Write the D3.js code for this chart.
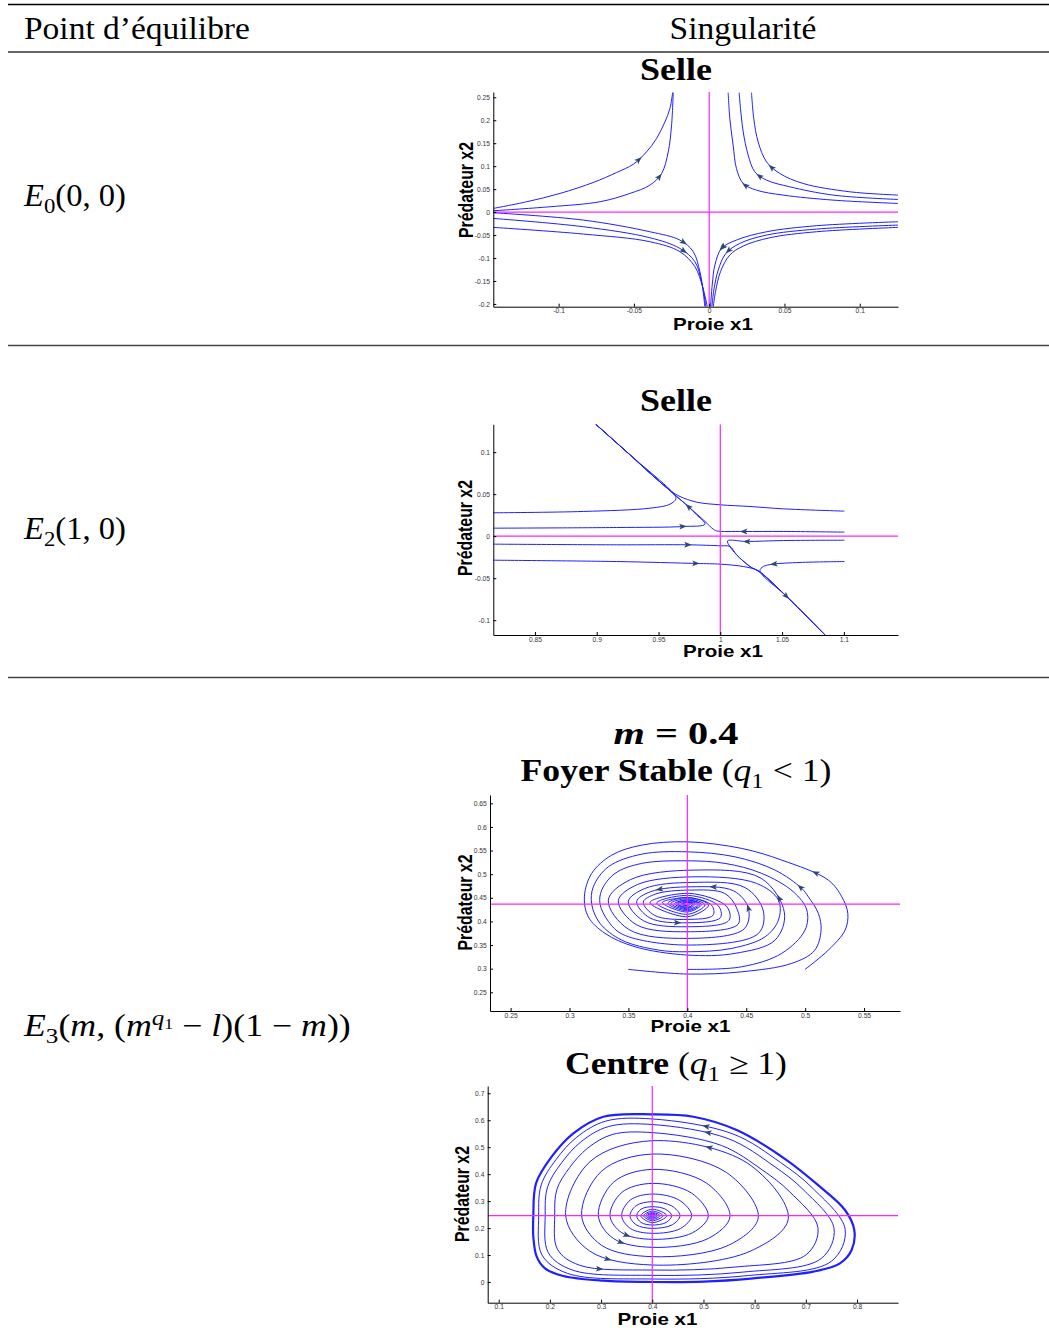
<!DOCTYPE html>
<html><head><meta charset="utf-8">
<script src="https://cdn.jsdelivr.net/npm/d3@7"></script>
<style>body{margin:0;background:#fff}svg{display:block}text{white-space:pre}</style>
</head><body><svg id="c" width="1049" height="1332"></svg>
<script>
// ---------------- DATA ----------------
const headerLabels = ["Point d\u2019\u00e9quilibre", "Singularit\u00e9"];
const rowLabels = [
  [["E","i"],["0","sub"],["(0, 0)",""]],
  [["E","i"],["2","sub"],["(1, 0)",""]],
  [["E","i"],["3","sub"],["(",""],["m","i"],[", (",""],["m","i"],["q","supi"],["1","supsub"],[" \u2212 ",""],["l","i"],[")(1 \u2212 ",""],["m","i"],["))",""]]
];
const titles = [
  [["Selle","b"]],
  [["Selle","b"]],
  [["m","bi"],[" = 0.4","b"]],
  [["Foyer Stable","b"],[" (",""],["q","i"],["1","sub"],[" < 1)",""]],
  [["Centre","b"],[" (",""],["q","i"],["1","sub"],[" \u2265 1)",""]]
];
const xAxisLabel = "Proie x1";
const yAxisLabel = "Pr\u00e9dateur x2";

// Panel 1 : saddle E0
const p1XDomain = [-0.1434, 0.1254];
const p1YDomain = [-0.206, 0.2615];
const p1XTicks = [-0.1, -0.05, 0, 0.05, 0.1];
const p1YTicks = [-0.2, -0.15, -0.1, -0.05, 0, 0.05, 0.1, 0.15, 0.2, 0.25];
const p1Equilibrium = [0, 0];
const p1Curves = [
  [[-0.1434,0.008],[-0.1212,0.0225],[-0.0991,0.0406],[-0.077,0.0645],[-0.0615,0.0862],[-0.0504,0.1043],[-0.0416,0.1312],[-0.035,0.1601],[-0.0294,0.1964],[-0.0261,0.2254],[-0.0243,0.2601]],
  [[-0.1434,0.0029],[-0.1058,0.0116],[-0.0726,0.0225],[-0.0527,0.0406],[-0.0394,0.0587],[-0.0316,0.0841],[-0.0272,0.1312],[-0.025,0.1891],[-0.0239,0.2601]],
  [[0.1254,0.0188],[0.0823,0.0261],[0.0491,0.037],[0.0314,0.0478],[0.0226,0.0623],[0.0181,0.0949],[0.0159,0.1457],[0.0137,0.2036],[0.0126,0.2601]],
  [[0.1254,0.0275],[0.0823,0.037],[0.0535,0.0551],[0.0381,0.0696],[0.0303,0.0877],[0.0259,0.1239],[0.0226,0.1746],[0.0208,0.2254],[0.0199,0.2601]],
  [[0.1254,0.037],[0.0934,0.0442],[0.0624,0.0623],[0.0469,0.0841],[0.0381,0.1094],[0.0325,0.1529],[0.0296,0.2036],[0.0281,0.2601]],
  [[-0.1434,-0.0014],[-0.0836,-0.0174],[-0.0394,-0.0428],[-0.0195,-0.0609],[-0.0106,-0.0862],[-0.0062,-0.1297],[-0.004,-0.1732],[-0.0029,-0.2058]],
  [[-0.1434,-0.0138],[-0.0836,-0.0319],[-0.0394,-0.0558],[-0.0195,-0.079],[-0.0095,-0.108],[-0.0051,-0.1514],[-0.0022,-0.2058]],
  [[-0.1434,-0.0333],[-0.0836,-0.0478],[-0.0394,-0.0645],[-0.0195,-0.0862],[-0.0095,-0.1188],[-0.0044,-0.1623],[-0.0013,-0.2058]],
  [[0.1254,-0.021],[0.0712,-0.0297],[0.0381,-0.0428],[0.0181,-0.0609],[0.0082,-0.079],[0.0038,-0.1152],[0.002,-0.1587],[0.0009,-0.2058]],
  [[0.1254,-0.0283],[0.0712,-0.037],[0.0381,-0.05],[0.0204,-0.0681],[0.0111,-0.0899],[0.006,-0.1261],[0.0031,-0.1696],[0.0018,-0.2058]],
  [[0.1254,-0.0333],[0.0712,-0.0428],[0.0403,-0.0558],[0.0226,-0.0739],[0.0137,-0.0935],[0.0075,-0.1297],[0.0042,-0.1732],[0.0027,-0.2058]]
];
const p1Arrows = [[-0.0459,0.1133],[-0.0326,0.0756],[0.0402,0.0952],[0.0325,0.0748],[0.0237,0.0588],[-0.0161,-0.0647],[-0.0161,-0.0843],[0.0071,-0.0741],[0.0097,-0.0806],[0.0126,-0.0843]];

// Panel 2 : saddle E2
const p2XDomain = [0.8163, 1.1438];
const p2YDomain = [-0.1176, 0.1331];
const p2XTicks = [0.85, 0.9, 0.95, 1, 1.05, 1.1];
const p2YTicks = [-0.1, -0.05, 0, 0.05, 0.1];
const p2Equilibrium = [1, 0];
const p2Curves = [
  [[0.8163,0.0278],[0.8891,0.0294],[0.9431,0.0333],[0.9593,0.0381],[0.9641,0.0444],[0.9625,0.05],[0.9566,0.0591],[0.9269,0.0968],[0.8991,0.1333]],
  [[1.1004,0.0298],[1.051,0.0325],[1.024,0.0353],[1.0,0.0373],[0.9808,0.0405],[0.9674,0.0472],[0.9606,0.0532],[0.9431,0.075],[0.9269,0.0968],[0.8991,0.1333]],
  [[0.8163,0.0095],[0.9161,0.0103],[0.9701,0.0115],[0.9876,0.0143],[0.9808,0.0254],[0.9741,0.0353],[0.9647,0.0472],[0.9431,0.075],[0.9269,0.0968],[0.8991,0.1333]],
  [[1.1004,0.0048],[1.051,0.0056],[1.0186,0.0056],[0.997,0.0063],[0.9943,0.0083],[0.9876,0.0175],[0.9741,0.0353],[0.9647,0.0472],[0.9431,0.075],[0.9269,0.0968],[0.8991,0.1333]],
  [[0.8163,-0.0095],[0.9161,-0.0103],[0.9741,-0.0103],[1.0,-0.0115],[1.0078,-0.0123],[1.0132,-0.0222],[1.024,-0.0361],[1.0321,-0.0429],[1.0537,-0.0718],[1.0847,-0.1175]],
  [[1.1004,-0.0048],[1.051,-0.0052],[1.0213,-0.0063],[1.0059,-0.0056],[1.0078,-0.0123],[1.0132,-0.0222],[1.024,-0.0361],[1.0321,-0.0429],[1.0537,-0.0718],[1.0847,-0.1175]],
  [[0.8163,-0.0286],[0.9161,-0.0302],[0.9808,-0.0325],[1.0,-0.0333],[1.0186,-0.0361],[1.0294,-0.0401],[1.0335,-0.044],[1.0537,-0.0718],[1.0847,-0.1175]],
  [[1.1004,-0.0302],[1.0645,-0.0313],[1.0429,-0.0333],[1.0348,-0.0361],[1.0321,-0.0413],[1.0537,-0.0718],[1.0847,-0.1175]]
];
const p2Arrows = [[0.9741,0.0353],[0.9701,0.0107],[1.0186,0.0056],[0.9741,-0.0103],[1.0213,-0.0063],[0.9808,-0.0325],[1.0429,-0.0333],[1.0537,-0.0718]];

// Panel 3 : stable focus E3
const p3XDomain = [0.2325, 0.5805];
const p3YDomain = [0.2104, 0.6676];
const p3XTicks = [0.25, 0.3, 0.35, 0.4, 0.45, 0.5, 0.55];
const p3YTicks = [0.25, 0.3, 0.35, 0.4, 0.45, 0.5, 0.55, 0.6, 0.65];
const p3Equilibrium = [0.4, 0.4367];
const p3Curves = [
  [[0.4999,0.2985],[0.5197,0.3394],[0.5339,0.3817],[0.5362,0.417],[0.5311,0.4521],[0.5197,0.4874],[0.4801,0.5298],[0.4462,0.5545],[0.4,0.5685],[0.3613,0.5615],[0.3358,0.5403],[0.3188,0.5016],[0.3126,0.4521],[0.3159,0.4098],[0.3301,0.3747],[0.3556,0.3463],[0.4,0.3288],[0.4405,0.3324],[0.4745,0.3605],
   [0.4824,0.418],[0.4626,0.4913],[0.405,0.5086],[0.3517,0.4885],[0.3329,0.445],[0.3503,0.383],[0.4,0.3641],[0.4483,0.3844],
   [0.4518,0.428],[0.4394,0.4645],[0.403,0.4733],[0.369,0.4631],[0.357,0.442],[0.3682,0.4074],[0.4,0.3971],[0.4281,0.4082],
   [0.4263,0.433],[0.401,0.455],[0.374,0.439],[0.4,0.415],
   [0.415,0.435],[0.4,0.448],[0.386,0.438],[0.4,0.425],
   [0.409,0.436],[0.4,0.443],[0.392,0.437],[0.4,0.43],
   [0.405,0.4365],[0.4,0.44],[0.396,0.437],[0.4,0.434],[0.4,0.4367]],
  [[0.35,0.2985],[0.4,0.2886],[0.4462,0.2934],[0.4886,0.3112],[0.508,0.3385],[0.5135,0.3817],[0.5112,0.417],[0.5027,0.4521],[0.4971,0.4699],[0.4745,0.5086],[0.4405,0.5367],[0.4,0.5473],[0.3613,0.5424],[0.3329,0.5156],[0.3202,0.4733],[0.3188,0.4367],[0.3259,0.3958],[0.3443,0.3605],[0.3754,0.3394],[0.4,0.3358],[0.4377,0.3429],[0.466,0.3675],
   [0.4773,0.4028],[0.4773,0.4451],[0.4587,0.4806],[0.405,0.4944],[0.3578,0.4782],[0.3414,0.444],[0.3566,0.3933],[0.4,0.3781],[0.4432,0.3945],
   [0.4419,0.428],[0.4318,0.4592],[0.402,0.4663],[0.3731,0.458],[0.3626,0.441],[0.3723,0.4127],[0.4,0.4043],[0.4218,0.413],
   [0.4207,0.434],[0.401,0.45],[0.3788,0.44],[0.4,0.42],
   [0.412,0.436],[0.4,0.4455],[0.389,0.4375],[0.4,0.427],
   [0.4065,0.4365],[0.4,0.4415],[0.3945,0.437],[0.4,0.432],[0.4025,0.4367],[0.4,0.4367]],
  [[0.4,0.2985],[0.4462,0.304],[0.4801,0.3324],[0.4999,0.3817],[0.5014,0.424],[0.49,0.4627],[0.4632,0.5016],[0.432,0.5228],[0.4,0.5283],[0.3613,0.5228],[0.3386,0.5016],[0.3273,0.4663],[0.3259,0.4367],[0.333,0.4],[0.3452,0.3725],[0.4,0.35],[0.4602,0.3743],
   [0.4645,0.422],[0.449,0.4716],[0.404,0.4826],[0.3639,0.4697],[0.3499,0.442],[0.3629,0.4012],[0.4,0.3887],[0.4353,0.4021],
   [0.4335,0.431],[0.402,0.4593],[0.3683,0.44],[0.4,0.41],
   [0.418,0.4345],[0.4,0.451],[0.3834,0.4385],[0.4,0.4225],
   [0.4105,0.436],[0.4,0.4455],[0.391,0.4375],[0.4,0.4285],
   [0.4045,0.4365],[0.4,0.4405],[0.396,0.4368],[0.4,0.4335],[0.4,0.4367]]
];
const p3Arrows = [[0.507,0.4932],[0.4957,0.472],[0.4773,0.4487],[0.4513,0.4297],[0.4221,0.4733],[0.3762,0.4684],[0.3924,0.3971]];

// Panel 4 : centre E3
const p4XDomain = [0.0785, 0.88];
const p4YDomain = [-0.0768, 0.727];
const p4XTicks = [0.1, 0.2, 0.3, 0.4, 0.5, 0.6, 0.7, 0.8];
const p4YTicks = [0, 0.1, 0.2, 0.3, 0.4, 0.5, 0.6, 0.7];
const p4Equilibrium = [0.4, 0.246];
const p4Curves = [
  [[0.1676,0.2459],[0.1729,0.3658],[0.2035,0.4647],[0.2458,0.5512],[0.3044,0.613],[0.4,0.6217],[0.4801,0.613],[0.5648,0.5636],[0.6624,0.4524],[0.7275,0.3535],[0.7764,0.267],[0.7946,0.1928],[0.7894,0.1187],[0.7666,0.0692],[0.7145,0.0383],[0.5973,0.0136],[0.4997,0.0012],[0.4,0.0],[0.3044,0.0049],[0.2262,0.0222],[0.1904,0.0507],[0.1742,0.0939],[0.1676,0.1681]],
  [[0.1781,0.246],[0.1831,0.3604],[0.2123,0.4549],[0.2527,0.5375],[0.3087,0.5965],[0.4,0.6048],[0.5574,0.5493],[0.6506,0.4431],[0.7128,0.3487],[0.7768,0.1952],[0.7501,0.0772],[0.5884,0.0241],[0.4,0.0111],[0.234,0.0323],[0.1844,0.1007]],
  [[0.1908,0.246],[0.1956,0.3538],[0.2231,0.4428],[0.2612,0.5207],[0.314,0.5763],[0.4,0.5841],[0.5483,0.5318],[0.6362,0.4318],[0.6948,0.3428],[0.7551,0.1981],[0.7299,0.0869],[0.5776,0.0368],[0.4,0.0246],[0.2436,0.0446],[0.1968,0.1091]],
  [[0.2094,0.246],[0.2138,0.3442],[0.2389,0.4253],[0.2736,0.4963],[0.3216,0.5469],[0.4,0.5541],[0.5351,0.5064],[0.6152,0.4152],[0.6686,0.3342],[0.7236,0.2024],[0.7006,0.101],[0.5618,0.0554],[0.4,0.0443],[0.2575,0.0625],[0.2148,0.1213]],
  [[0.2308,0.246],[0.2782,0.4462],[0.4,0.524],[0.586,0.4406],[0.6657,0.235],[0.5913,0.1142],[0.4,0.063],[0.2782,0.1142]],
  [[0.262,0.246],[0.3006,0.4106],[0.4,0.4746],[0.545,0.406],[0.6071,0.24],[0.5491,0.1365],[0.4,0.0939],[0.3006,0.1365]],
  [[0.2946,0.246],[0.3241,0.3697],[0.4,0.4178],[0.5063,0.3663],[0.5518,0.243],[0.5093,0.1614],[0.4,0.1285],[0.3241,0.1614]],
  [[0.3174,0.246],[0.3405,0.3323],[0.4,0.3658],[0.4766,0.3299],[0.5094,0.245],[0.4788,0.1828],[0.4,0.1582],[0.3405,0.1828]],
  [[0.3402,0.246],[0.357,0.3038],[0.4,0.3263],[0.4538,0.3022],[0.4769,0.246],[0.4554,0.1988],[0.4,0.1805],[0.357,0.1988]],
  [[0.3564,0.246],[0.3686,0.2834],[0.4,0.2979],[0.4379,0.2823],[0.4541,0.246],[0.439,0.2122],[0.4,0.199],[0.3686,0.2122]],
  [[0.3695,0.246],[0.378,0.27],[0.4,0.2793],[0.4265,0.2693],[0.4378,0.246],[0.4272,0.221],[0.4,0.2113],[0.378,0.221]],
  [[0.3775,0.246],[0.4,0.27],[0.4285,0.246],[0.4,0.22]],
  [[0.383,0.246],[0.4,0.263],[0.421,0.246],[0.4,0.227]],
  [[0.387,0.246],[0.4,0.258],[0.415,0.246],[0.4,0.232]],
  [[0.3905,0.246],[0.4,0.2545],[0.4105,0.246],[0.4,0.236]],
  [[0.3935,0.246],[0.4,0.2515],[0.407,0.246],[0.4,0.2395]],
  [[0.396,0.246],[0.4,0.2495],[0.404,0.246],[0.4,0.242]]
];
const p4Arrows = [[0.503,0.57],[0.506,0.541],[0.509,0.496],[0.35,0.1657],[0.337,0.131],[0.316,0.0964],[0.298,0.0656]];

// ---------------- LAYOUT ----------------
const svg = d3.select("#c");
const SERIF = "'Liberation Serif', 'DejaVu Serif', serif";
const SANS = "'Liberation Sans', Arial, sans-serif";
const BLUE = "#1f1fff", MAGENTA = "#ff22ff", ARROWC = "#2e4a6b";

svg.append("rect").attr("width",1049).attr("height",1332).attr("fill","#fff");

// table rules
[[4.5,"#000",1.3],[52,"#666",2.2],[345.5,"#444",1.3],[677.5,"#444",1.3]].forEach(r=>{
  svg.append("line").attr("x1",8).attr("x2",1049).attr("y1",r[0]).attr("y2",r[0]).attr("stroke",r[1]).attr("stroke-width",r[2]);
});

function renderSegs(t, segs, fs){
  let cur = 0;
  segs.forEach(([s,k])=>{
    let off=0,size=fs,style=null,weight=null;
    if(k==="i") style="italic";
    if(k==="b") weight="bold";
    if(k==="bi"){style="italic";weight="bold";}
    if(k==="sub"){off=0.22*fs;size=0.7*fs;}
    if(k==="supi"){off=-0.36*fs;size=0.7*fs;style="italic";}
    if(k==="supsub"){off=-0.22*fs;size=0.5*fs;}
    const ts=t.append("tspan").text(s).attr("dy",off-cur).attr("font-size",size);
    if(style) ts.attr("font-style",style);
    if(weight) ts.attr("font-weight",weight);
    cur=off;
  });
}
function fitted(x,y,anchor,width,fs,segs){
  const g=svg.append("g");
  const t=g.append("text").attr("font-family",SERIF).attr("font-size",fs).attr("text-anchor",anchor).attr("fill","#000");
  renderSegs(t,segs,fs);
  const w=t.node().getBBox().width;
  g.attr("transform",`translate(${x},${y}) scale(${width/w},1)`);
}
fitted(24,39,"start",226,31,[[headerLabels[0],""]]);
fitted(743,39,"middle",147,31,[[headerLabels[1],""]]);
fitted(24,206,"start",103,31,rowLabels[0]);
fitted(24,539,"start",103,31,rowLabels[1]);
fitted(24,1036,"start",328,31,rowLabels[2]);
fitted(676,80,"middle",72,31,titles[0]);
fitted(676,411,"middle",72,31,titles[1]);
fitted(676,744,"middle",125,31,titles[2]);
fitted(676,781,"middle",311,31,titles[3]);
fitted(676,1074,"middle",222,31,titles[4]);

const panels = [
  {id:1,x0:493.3,x1:898,y0:92,y1:306.7,xd:p1XDomain,yd:p1YDomain,xt:p1XTicks,yt:p1YTicks,eq:p1Equilibrium,curves:p1Curves,arrows:p1Arrows,ylab:[473,190],xlab:[713,330],closed:false,dir:1},
  {id:2,x0:493.3,x1:898,y0:424.3,y1:635,xd:p2XDomain,yd:p2YDomain,xt:p2XTicks,yt:p2YTicks,eq:p2Equilibrium,curves:p2Curves,arrows:p2Arrows,ylab:[472,528],xlab:[723,656.5],closed:false,dir:1},
  {id:3,x0:490,x1:900,y0:795,y1:1011,xd:p3XDomain,yd:p3YDomain,xt:p3XTicks,yt:p3YTicks,eq:p3Equilibrium,curves:p3Curves,arrows:p3Arrows,ylab:[472,902.5],xlab:[690.5,1031.5],closed:false,dir:1},
  {id:4,x0:487.7,x1:898,y0:1086,y1:1302.7,xd:p4XDomain,yd:p4YDomain,xt:p4XTicks,yt:p4YTicks,eq:p4Equilibrium,curves:p4Curves,arrows:p4Arrows,ylab:[469,1194],xlab:[657.5,1325],closed:true,dir:-1}
];

const ARROW = "M3.5,0 L-4,-2.9 L-2.4,0 L-4,2.9 Z";

panels.forEach(cfg=>{
  const xs=d3.scaleLinear().domain(cfg.xd).range([cfg.x0,cfg.x1]);
  const ys=d3.scaleLinear().domain(cfg.yd).range([cfg.y1,cfg.y0]);
  const cid="clip"+cfg.id;
  svg.append("clipPath").attr("id",cid).append("rect").attr("x",cfg.x0).attr("y",cfg.y0).attr("width",cfg.x1-cfg.x0).attr("height",cfg.y1-cfg.y0);
  const g=svg.append("g");

  const line=d3.line().x(d=>xs(d[0])).y(d=>ys(d[1]))
    .curve(cfg.closed?d3.curveCatmullRomClosed.alpha(0.5):d3.curveCatmullRom.alpha(0.5));
  const cg=g.append("g").attr("clip-path",`url(#${cid})`);
  const paths=cg.selectAll("path").data(cfg.curves).join("path")
    .attr("d",line).attr("fill","none").attr("stroke",BLUE)
    .attr("stroke-width",(d,i)=>cfg.closed&&i===0?2.2:1);

  // equilibrium cross-hair
  cg.append("line").attr("x1",cfg.x0).attr("x2",cfg.x1).attr("y1",ys(cfg.eq[1])).attr("y2",ys(cfg.eq[1])).attr("stroke",MAGENTA).attr("stroke-width",1.2);
  cg.append("line").attr("x1",xs(cfg.eq[0])).attr("x2",xs(cfg.eq[0])).attr("y1",cfg.y0).attr("y2",cfg.y1).attr("stroke",MAGENTA).attr("stroke-width",1.2);

  // axes
  const ax=g.append("g").attr("transform",`translate(0,${cfg.y1})`)
    .call(d3.axisBottom(xs).tickValues(cfg.xt).tickSizeInner(-3).tickSizeOuter(0).tickPadding(2).tickFormat(d=>String(d)));
  const ay=g.append("g").attr("transform",`translate(${cfg.x0},0)`)
    .call(d3.axisLeft(ys).tickValues(cfg.yt).tickSizeInner(-3).tickSizeOuter(0).tickPadding(3.3).tickFormat(d=>String(d)));
  [ax,ay].forEach(a=>{
    a.attr("font-size",6.7).attr("font-family",SANS).attr("color","#000");
    a.selectAll("text").attr("fill","#333");
    a.select(".domain").attr("stroke-width",1);
  });

  // axis labels
  g.append("text").attr("x",cfg.xlab[0]).attr("y",cfg.xlab[1]).attr("text-anchor","middle")
    .attr("font-family",SANS).attr("font-weight","bold").attr("font-size",16.5)
    .attr("textLength",80).attr("lengthAdjust","spacingAndGlyphs").text(xAxisLabel);
  g.append("text").attr("transform",`translate(${cfg.ylab[0]},${cfg.ylab[1]}) rotate(-90)`).attr("text-anchor","middle")
    .attr("font-family",SANS).attr("font-weight","bold").attr("font-size",21)
    .attr("textLength",96).attr("lengthAdjust","spacingAndGlyphs").text(yAxisLabel);

  // arrows: placed on nearest trajectory, oriented along the flow
  const samples=[];
  paths.each(function(){
    const L=this.getTotalLength();
    const s=[];
    for(let l=0;l<=L;l+=1){const p=this.getPointAtLength(l);s.push([l,p.x,p.y]);}
    samples.push({node:this,L,s});
  });
  cfg.arrows.forEach(a=>{
    const px=xs(a[0]),py=ys(a[1]);
    let best=null,bd=1e12;
    samples.forEach(P=>P.s.forEach(q=>{
      const d=(q[1]-px)**2+(q[2]-py)**2;
      if(d<bd){bd=d;best={P,l:q[0],x:q[1],y:q[2]};}
    }));
    const n=best.P.node;
    const p1=n.getPointAtLength(Math.max(0,best.l-2));
    const p2=n.getPointAtLength(Math.min(best.P.L,best.l+2));
    let ang=Math.atan2(p2.y-p1.y,p2.x-p1.x)*180/Math.PI;
    if(cfg.dir<0) ang+=180;
    g.append("path").attr("d",ARROW).attr("fill",ARROWC)
      .attr("transform",`translate(${best.x},${best.y}) rotate(${ang})`);
  });
});
</script></body></html>
